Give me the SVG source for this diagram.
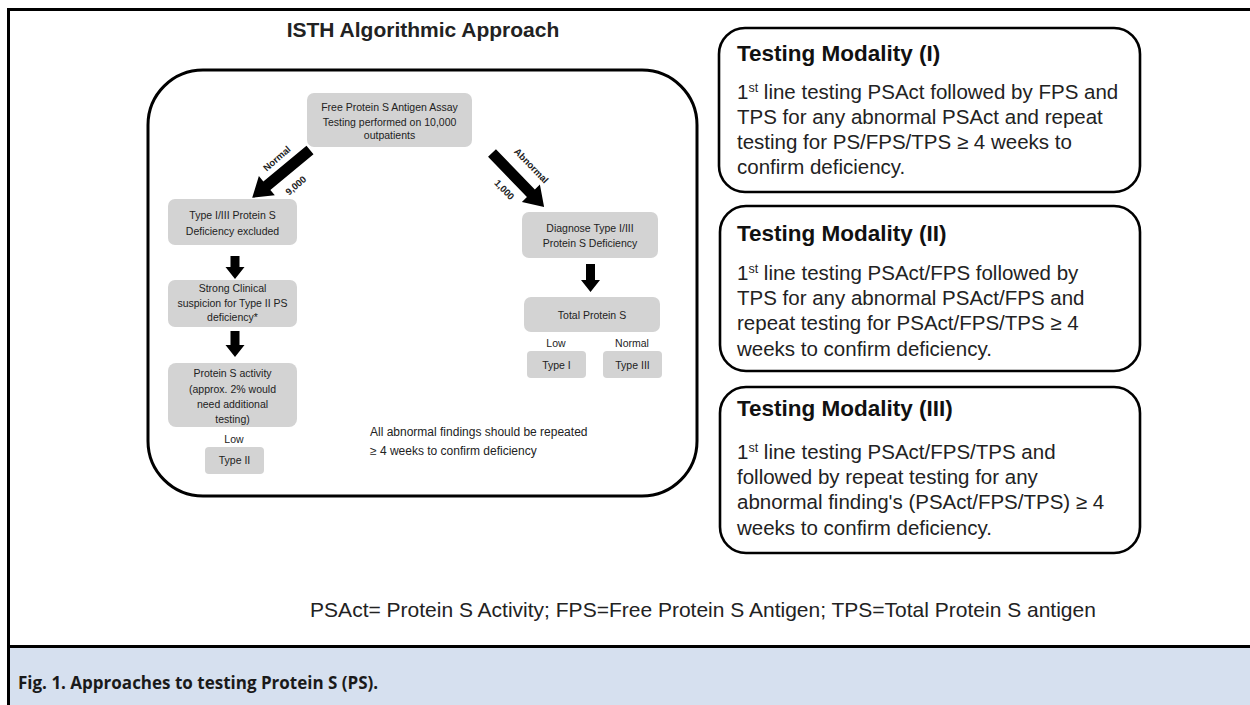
<svg xmlns="http://www.w3.org/2000/svg" width="1250" height="705" viewBox="0 0 1250 705">
<style>
.box{fill:#d3d3d3;stroke:none}
.ft{font-family:"Liberation Sans",Arial,sans-serif;fill:#222}
.s{font-size:10.5px;text-anchor:middle}
.lbl{font-size:9.5px;font-weight:bold;text-anchor:middle}
.frame{fill:none;stroke:#000;stroke-width:3}
.mod{fill:#fff;stroke:#000;stroke-width:2.6}
.mt{font-size:22.5px;font-weight:bold;fill:#111}
.mb{font-size:20.5px;fill:#222}
.arr{fill:#000}
</style>
<defs>
<polygon id="dg" points="0,-5.5 56,-5.5 56,-12.5 75,0 56,12.5 56,5.5 0,5.5"/>
</defs>
<rect x="0" y="0" width="1250" height="705" fill="#fff"/>
<rect x="8" y="646" width="1242" height="59" fill="#d6e0ef"/>
<g id="borders" fill="#000">
<rect x="7" y="8" width="1243" height="3"/>
<rect x="7" y="8" width="3" height="697"/>
<rect x="7" y="645" width="1243" height="3"/>
</g>
<g id="title"><text class="ft" x="423" y="37" font-size="21" font-weight="bold" text-anchor="middle" fill="#222">ISTH Algorithmic Approach</text></g>
<g id="algoframe"><rect class="frame" x="148" y="70" width="549" height="426" rx="55"/></g>
<g id="n-top"><rect class="box" x="307" y="93" width="165" height="54" rx="7"/>
<text class="ft s" x="389.5" y="111">Free Protein S Antigen Assay</text>
<text class="ft s" x="389.5" y="126">Testing performed on 10,000</text>
<text class="ft s" x="389.5" y="139">outpatients</text></g>
<g id="n-excl"><rect class="box" x="168" y="199" width="129" height="46" rx="7"/>
<text class="ft s" x="232.5" y="219">Type I/III Protein S</text>
<text class="ft s" x="232.5" y="235">Deficiency excluded</text></g>
<g id="n-susp"><rect class="box" x="168" y="280" width="129" height="47" rx="7"/>
<text class="ft s" x="232.5" y="292">Strong Clinical</text>
<text class="ft s" x="232.5" y="307">suspicion for Type II PS</text>
<text class="ft s" x="232.5" y="321">deficiency*</text></g>
<g id="n-act"><rect class="box" x="168" y="363" width="129" height="64" rx="8"/>
<text class="ft s" x="232.5" y="377">Protein S activity</text>
<text class="ft s" x="232.5" y="393">(approx. 2% would</text>
<text class="ft s" x="232.5" y="408">need additional</text>
<text class="ft s" x="232.5" y="423">testing)</text></g>
<g id="n-low2"><text class="ft s" x="234" y="443">Low</text></g>
<g id="n-type2"><rect class="box" x="205" y="447" width="59" height="27" rx="4"/>
<text class="ft s" x="234.5" y="464">Type II</text></g>
<g id="n-diag"><rect class="box" x="522" y="212" width="136" height="46" rx="7"/>
<text class="ft s" x="590" y="232">Diagnose Type I/III</text>
<text class="ft s" x="590" y="247">Protein S Deficiency</text></g>
<g id="n-total"><rect class="box" x="524" y="297" width="136" height="35" rx="7"/>
<text class="ft s" x="592" y="319">Total Protein S</text></g>
<g id="n-lowlbl"><text class="ft s" x="556" y="347">Low</text></g>
<g id="n-normlbl"><text class="ft s" x="632" y="347">Normal</text></g>
<g id="n-type1"><rect class="box" x="527" y="351" width="59" height="27" rx="4"/>
<text class="ft s" x="556.5" y="369">Type I</text></g>
<g id="n-type3"><rect class="box" x="603" y="351" width="59" height="27" rx="4"/>
<text class="ft s" x="632.5" y="369">Type III</text></g>
<g id="n-note"><text class="ft" x="370" y="436" font-size="12">All abnormal findings should be repeated</text>
<text class="ft" x="370" y="455" font-size="12">≥ 4 weeks to confirm deficiency</text></g>
<g id="connectors">
<use href="#dg" class="arr" transform="translate(310,150) rotate(140.4)"/>
<use href="#dg" class="arr" transform="translate(492,153) rotate(46)"/>
<polygon class="arr" points="230.5,256 239.5,256 239.5,267 244.5,267 235,279 225.5,267 230.5,267"/>
<polygon class="arr" points="230.5,331 239.5,331 239.5,345 244.5,345 235,357 225.5,345 230.5,345"/>
<polygon class="arr" points="586,264 595,264 595,280 600,280 590.5,292 581,280 586,280"/>
<text class="ft lbl" transform="translate(279,161) rotate(-41)">Normal</text>
<text class="ft lbl" transform="translate(298,188) rotate(-41)">9,000</text>
<text class="ft lbl" transform="translate(529,168) rotate(46)">Abnormal</text>
<text class="ft lbl" transform="translate(502,192) rotate(46)">1,000</text>
</g>
<g id="mod1"><rect class="mod" x="719" y="28" width="421" height="164" rx="26"/>
<text class="ft mt" x="737" y="61">Testing Modality (I)</text>
<text class="ft mb" x="737" y="99">1<tspan font-size="12.5" dy="-7">st</tspan><tspan dy="7"> line testing PSAct followed by FPS and</tspan></text>
<text class="ft mb" x="737" y="124">TPS for any abnormal PSAct and repeat</text>
<text class="ft mb" x="737" y="149">testing for PS/FPS/TPS ≥ 4 weeks to</text>
<text class="ft mb" x="737" y="174">confirm deficiency.</text></g>
<g id="mod2"><rect class="mod" x="720" y="206" width="420" height="165" rx="26"/>
<text class="ft mt" x="737" y="241">Testing Modality (II)</text>
<text class="ft mb" x="737" y="280">1<tspan font-size="12.5" dy="-7">st</tspan><tspan dy="7"> line testing PSAct/FPS followed by</tspan></text>
<text class="ft mb" x="737" y="305">TPS for any abnormal PSAct/FPS and</text>
<text class="ft mb" x="737" y="330">repeat testing for PSAct/FPS/TPS ≥ 4</text>
<text class="ft mb" x="737" y="356">weeks to confirm deficiency.</text></g>
<g id="mod3"><rect class="mod" x="720" y="387" width="420" height="166" rx="26"/>
<text class="ft mt" x="737" y="416">Testing Modality (III)</text>
<text class="ft mb" x="737" y="459">1<tspan font-size="12.5" dy="-7">st</tspan><tspan dy="7"> line testing PSAct/FPS/TPS and</tspan></text>
<text class="ft mb" x="737" y="484">followed by repeat testing for any</text>
<text class="ft mb" x="737" y="509">abnormal finding's (PSAct/FPS/TPS) ≥ 4</text>
<text class="ft mb" x="737" y="535">weeks to confirm deficiency.</text></g>
<g id="footer"><text class="ft" x="703" y="617" font-size="21" text-anchor="middle">PSAct= Protein S Activity; FPS=Free Protein S Antigen; TPS=Total Protein S antigen</text></g>
<g id="caption"><text x="18" y="689" font-family="'Open Sans',sans-serif" font-size="17" font-weight="bold" fill="#1a1a1a">Fig. 1. Approaches to testing Protein S (PS).</text></g>
</svg>
